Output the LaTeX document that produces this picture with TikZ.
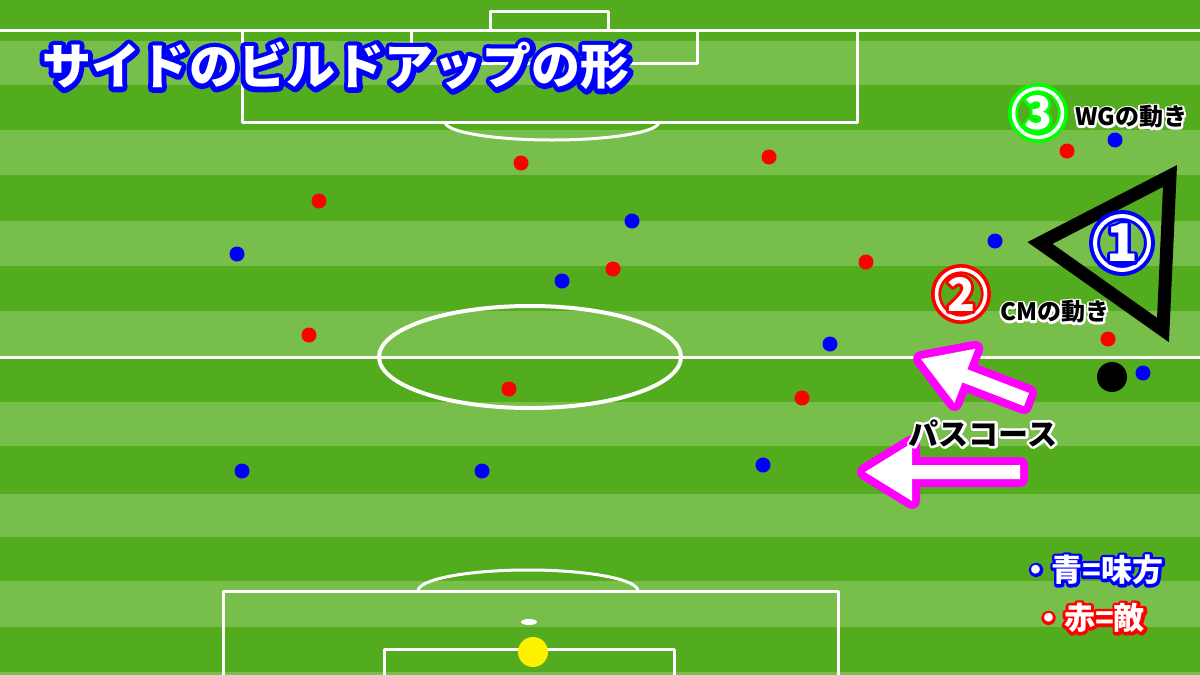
\documentclass[tikz,border=0pt]{standalone}
\usepackage{fontspec}
\usepackage{xcolor}
\newfontfamily\jpfont{Noto Sans CJK JP}
\definecolor{grassdark}{HTML}{52AC1D}
\definecolor{grasslight}{HTML}{77BE4A}
\definecolor{passpink}{RGB}{255,0,255}

% texto con borde de color (copia engordada detras)
\newcommand\rimtext[3]{%
  \rlap{\addfontfeatures{FakeBold=#2}\color{#1}#3}%
  #3}

\begin{document}
\begin{tikzpicture}[
    x=1pt, y=-1pt, line join=round,
    pitchline/.style={white, line width=3pt},
    mate/.style={blue},
    rival/.style={red},
    titletext/.style={inner sep=0pt, text=white, font={\jpfont\bfseries\fontsize{49pt}{52pt}\selectfont}},
    notetext/.style={inner sep=0pt, text=black, font={\jpfont\bfseries\fontsize{24pt}{28pt}\selectfont}},
    passtext/.style={inner sep=0pt, text=black, font={\jpfont\bfseries\fontsize{30pt}{34pt}\selectfont}},
    keytext/.style={inner sep=0pt, text=white, font={\jpfont\bfseries\fontsize{31pt}{34pt}\selectfont}},
    digittext/.style={inner sep=0pt, text=white, font={\jpfont\bfseries\fontsize{52pt}{56pt}\selectfont}},
    pics/passarrow/.style={code={
      \draw[passpink, line width=16pt, line join=round]
        (0pt,0pt) -- (47pt,29pt) -- (47pt,7pt) -- (#1pt,7pt) -- (#1pt,-7pt) -- (47pt,-7pt) -- (47pt,-29pt) -- cycle;
      \fill[white]
        (0pt,0pt) -- (47pt,29pt) -- (47pt,7pt) -- (#1pt,7pt) -- (#1pt,-7pt) -- (47pt,-7pt) -- (47pt,-29pt) -- cycle;
    }}
  ]
  \useasboundingbox (0,0) rectangle (1200,675);

  % cesped
  \fill[grassdark] (0,0) rectangle (1200,675);
  \foreach \ya/\yb in {41/85,130/175,221/266,311/357,402/446,494/537,581/627,672/675}
    \fill[grasslight] (0,\ya) rectangle (1200,\yb);

  % lineas del campo
  \draw[pitchline] (0,30) -- (1200,30);
  \draw[pitchline] (0,357) -- (1200,357);
  \draw[pitchline] (242,30) rectangle (857,122);
  \draw[pitchline] (411,30) rectangle (697,63);
  \draw[pitchline] (490,30) -- (490,11) -- (608,11) -- (608,30);
  \draw[pitchline] (445,122) arc[start angle=180, end angle=360, x radius=107pt, y radius=18pt];
  \draw[pitchline, line width=4pt] (530,357) ellipse (151pt and 51pt);
  \draw[pitchline] (223,675) |- (838,591) -- (838,675);
  \draw[pitchline] (384,675) |- (674,649) -- (674,675);
  \draw[pitchline] (418,591) arc[start angle=180, end angle=0, x radius=110pt, y radius=21pt];
  \fill[white] (529,622) ellipse (8pt and 3pt);
  \fill[yellow] (533,652) circle (15pt);

  % jugadores
  \foreach \x/\y in {237/254,632/221,562/281,830/344,242/471,482/471,763/465,995/241,1115/140,1143/373}
    \fill[mate] (\x,\y) circle (7.5pt);
  \foreach \x/\y in {521/163,769/157,319/201,613/269,866/262,309/335,509/389,802/398,1067/151,1108/339}
    \fill[rival] (\x,\y) circle (7.5pt);
  \fill[black] (1112,377) circle (15pt);

  % triangulo
  \draw[line width=13pt, line join=miter] (1040,243) -- (1170,176) -- (1163,330) -- cycle;

  % titulo
  \node[titletext] (title) at (336,66) {\rimtext{blue}{20}{サイドのビルドアップの形}};

  % numeros
  \coordinate (one) at (1122,243);
  \coordinate (two) at (961,294);
  \coordinate (three) at (1038,113);
  \draw[blue, line width=11pt] (one) circle (27.5pt);
  \draw[white, line width=4pt] (one) circle (27pt);
  \node[digittext] (onedigit) at (one) {\rimtext{blue}{12}{1}};
  \draw[red, line width=10pt] (two) circle (25pt);
  \draw[white, line width=3.6pt] (two) circle (24.5pt);
  \node[digittext, font={\jpfont\bfseries\fontsize{46pt}{50pt}\selectfont}] (twodigit) at (two) {\rimtext{red}{13}{2}};
  \draw[green, line width=10pt] (three) circle (25pt);
  \draw[white, line width=3.6pt] (three) circle (24.5pt);
  \node[digittext, font={\jpfont\bfseries\fontsize{46pt}{50pt}\selectfont}] (threedigit) at (three) {\rimtext{green}{13}{3}};

  \node[notetext, anchor=west] (wgtext) at (1075,117) {\rimtext{white}{17}{WGの動き}};
  \node[notetext, anchor=west] (cmtext) at (1000,312) {\rimtext{white}{17}{CMの動き}};

  % pases
  \pic[rotate=-21] at (921,359) {passarrow=113};
  \pic at (865,472) {passarrow=155};
  \node[passtext] (passlabel) at (983,433) {\rimtext{white}{17}{パスコース}};

  % leyenda
  \node[keytext] (matekey) at (1092,570) {\rimtext{blue}{19}{・青=味方}};
  \node[keytext] (rivalkey) at (1089,618) {\rimtext{red}{19}{・赤=敵}};
\end{tikzpicture}
\end{document}
